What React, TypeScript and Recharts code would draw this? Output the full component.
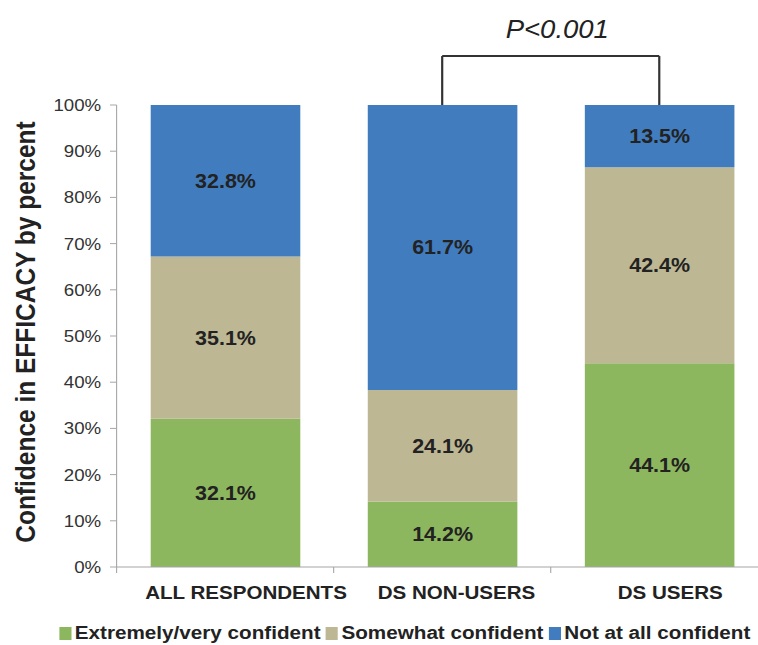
import { BarChart, Bar, XAxis, YAxis, LabelList, Legend, ReferenceLine } from 'recharts';

const categories = ['ALL RESPONDENTS', 'DS NON-USERS', 'DS USERS'];
const extremelyConfident = [32.1, 14.2, 44.1];
const somewhatConfident = [35.1, 24.1, 42.4];
const notAtAllConfident = [32.8, 61.7, 13.5];
const seriesNames = ['Extremely/very confident', 'Somewhat confident', 'Not at all confident'];
const yTicks = [0, 10, 20, 30, 40, 50, 60, 70, 80, 90, 100];
const yTitle = 'Confidence in EFFICACY by percent';
const pValueText = 'P<0.001';
const bracketTop = 110.6;

const COLORS = ['#8db75f', '#bdb794', '#417dbe'];
const FONT = '"Liberation Sans", Arial, Helvetica, sans-serif';

// source picture is a bit stretched sideways, so draw narrow and scale x
const STRETCH = 1.1;
const CHART_W = 710;
const CHART_H = 645;
const Y_AXIS_W = 106;
const MARGIN_R = 12;
const HALF_BAND = (CHART_W - Y_AXIS_W - MARGIN_R) / categories.length / 2;
// category labels sit a little right of the bar centres in the original
const LABEL_SHIFT = [19, 13, 10];

const data = categories.map((c, i) => ({
  group: c,
  extremely: extremelyConfident[i],
  somewhat: somewhatConfident[i],
  notAtAll: notAtAllConfident[i],
}));

const CategoryTick = ({ x, y, payload, index }: any) => (
  <g>
    <line x1={x - HALF_BAND} x2={x - HALF_BAND} y1={y - 8} y2={y - 2} stroke="#a6a6a6" />
    <text
      x={x + (LABEL_SHIFT[index] ?? 0)}
      y={y + 24}
      textAnchor="middle"
      fontSize={18.7}
      fontWeight="bold"
      fill="#222"
    >
      {payload.value}
    </text>
  </g>
);

const renderLegend = () => (
  <div
    style={{
      display: 'flex',
      alignItems: 'center',
      paddingLeft: 54,
      height: 24,
      fontSize: 18.8,
      fontWeight: 'bold',
      color: '#222',
      whiteSpace: 'nowrap',
    }}
  >
    {seriesNames.map((n, i) => (
      <span key={n} style={{ display: 'flex', alignItems: 'center', marginRight: 5 }}>
        <span style={{ display: 'inline-block', width: 11, height: 13, background: COLORS[i], marginRight: 3 }} />
        {n}
      </span>
    ))}
  </div>
);

const fmt = (v: any) => Number(v).toFixed(1) + '%';

export default function App() {
  return (
    <div
      style={{
        position: 'absolute',
        left: 0,
        top: 0,
        width: 758,
        height: 645,
        overflow: 'hidden',
        background: '#fff',
      }}
    >
      <div
        style={{
          width: CHART_W,
          height: CHART_H,
          transform: `scaleX(${STRETCH})`,
          transformOrigin: '0 0',
          fontFamily: FONT,
        }}
      >
        <BarChart
          width={CHART_W}
          height={CHART_H}
          data={data}
          margin={{ top: 105, right: MARGIN_R, left: 0, bottom: 0 }}
          style={{ fontFamily: FONT }}
        >
          <XAxis
            dataKey="group"
            height={54}
            tickSize={6}
            tickMargin={2}
            tickLine={false}
            axisLine={{ stroke: '#a6a6a6' }}
            tick={<CategoryTick />}
            interval={0}
          />
          <YAxis
            width={Y_AXIS_W}
            domain={[0, 100]}
            ticks={yTicks}
            tickFormatter={(v) => v + '%'}
            tick={{ fontSize: 17, fill: '#333' }}
            tickSize={6}
            tickMargin={8}
            axisLine={{ stroke: '#a6a6a6' }}
            tickLine={{ stroke: '#a6a6a6' }}
            label={{
              value: yTitle,
              content: () => (
                <text
                  transform="translate(23,332) rotate(-90)"
                  textAnchor="middle"
                  dominantBaseline="central"
                  fontSize={24.5}
                  fontWeight="bold"
                  fill="#222"
                >
                  {yTitle}
                </text>
              ),
            }}
          />
          <Legend verticalAlign="bottom" content={renderLegend} wrapperStyle={{ left: 0, width: CHART_W, bottom: 0 }} />
          <Bar dataKey="extremely" name={seriesNames[0]} stackId="a" fill={COLORS[0]} barSize={136} isAnimationActive={false}>
            <LabelList dataKey="extremely" position="center" formatter={fmt} fill="#222" fontSize={19.5} fontWeight="bold" />
          </Bar>
          <Bar dataKey="somewhat" name={seriesNames[1]} stackId="a" fill={COLORS[1]} barSize={136} isAnimationActive={false}>
            <LabelList dataKey="somewhat" position="center" formatter={fmt} fill="#222" fontSize={19.5} fontWeight="bold" />
          </Bar>
          <Bar dataKey="notAtAll" name={seriesNames[2]} stackId="a" fill={COLORS[2]} barSize={136} isAnimationActive={false}>
            <LabelList dataKey="notAtAll" position="center" formatter={fmt} fill="#222" fontSize={19.5} fontWeight="bold" />
          </Bar>
          <ReferenceLine
            segment={[{ x: categories[1], y: 100 }, { x: categories[1], y: bracketTop }]}
            stroke="#333"
            strokeWidth={2}
            ifOverflow="visible"
          />
          <ReferenceLine
            segment={[{ x: categories[2], y: 100 }, { x: categories[2], y: bracketTop }]}
            stroke="#333"
            strokeWidth={2}
            ifOverflow="visible"
          />
          <ReferenceLine
            segment={[{ x: categories[1], y: bracketTop }, { x: categories[2], y: bracketTop }]}
            stroke="#333"
            strokeWidth={2}
            ifOverflow="visible"
            label={{ value: pValueText, position: 'top', offset: 18, dx: 6, fontSize: 25, fontStyle: 'italic', fill: '#222' }}
          />
        </BarChart>
      </div>
    </div>
  );
}
